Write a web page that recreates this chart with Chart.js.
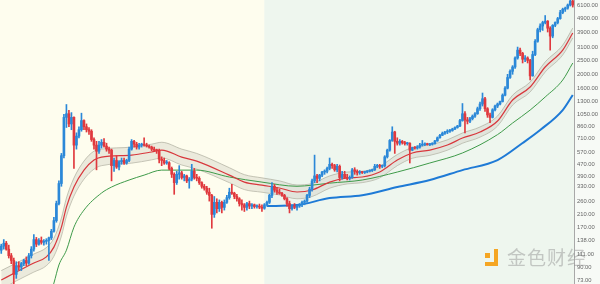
<!DOCTYPE html>
<html>
<head>
<meta charset="utf-8">
<script src="https://cdn.jsdelivr.net/npm/chart.js@4"></script>
<style>
    html, body { margin: 0; padding: 0; background: #ffffff; overflow: hidden; }
    #wrap { position: relative; width: 600px; height: 284px; }
    #wm-text { position: absolute; left: 507px; top: 243px; font: 19px "Noto Sans CJK SC", sans-serif; color: rgba(140, 140, 140, 0.45); letter-spacing: 1px; white-space: nowrap; }
    .wm-icon { position: absolute; background: #F5A623; }
</style>
</head>
<body>
<div id="wrap">
    <canvas id="chart" width="600" height="284"></canvas>
    <div class="wm-icon" style="left:485px;top:253px;width:5px;height:5px;"></div>
    <div class="wm-icon" style="left:494px;top:249px;width:4px;height:17px;"></div>
    <div class="wm-icon" style="left:485px;top:262px;width:13px;height:4px;"></div>
    <div id="wm-text">金色财经</div>
</div>
<script>
// weekly candles, one entry per week
const openP = [118, 126, 132, 120, 108, 100, 80, 92, 90, 95, 100, 96, 108, 120, 140, 130, 138, 134, 136, 138,
    144, 160, 190, 250, 345, 540, 1000, 1060, 900, 1000, 640, 740, 820, 950, 860, 820, 800, 700, 640, 580,
    640, 670, 630, 600, 590, 460, 500, 450, 490, 500, 480, 500, 600, 680, 650, 620, 640, 650, 640, 630,
    620, 600, 590, 585, 510, 500, 480, 482, 440, 400, 350, 400, 410, 380, 390, 360, 370, 420, 380, 375,
    350, 330, 320, 300, 285, 210, 255, 230, 255, 235, 255, 275, 300, 295, 280, 270, 250, 245, 235, 250,
    240, 245, 238, 240, 236, 232, 245, 255, 285, 330, 310, 300, 295, 285, 270, 250, 230, 240, 235, 240,
    245, 255, 260, 285, 315, 360, 390, 375, 395, 415, 420, 440, 470, 460, 430, 455, 380, 400, 380, 375,
    380, 430, 420, 410, 415, 412, 415, 420, 425, 430, 455, 460, 455, 460, 530, 590, 690, 790, 680, 660,
    680, 665, 655, 660, 590, 615, 610, 620, 640, 645, 650, 645, 650, 655, 685, 720, 750, 775, 790, 800,
    810, 830, 850, 870, 950, 1060, 960, 940, 980, 1020, 1060, 1150, 1240, 1350, 1150, 1040, 1000, 1130, 1200, 1240,
    1290, 1430, 1600, 1900, 2100, 2250, 2600, 2950, 2800, 2550, 2600, 2500, 1950, 2750, 3400, 4100, 4350, 4600, 4700, 4200,
    3700, 4400, 4600, 4900, 5400, 5700, 5800, 6100, 6500];
const highP = [130, 140, 136, 128, 112, 104, 98, 98, 97, 102, 106, 112, 125, 152, 145, 142, 146, 140, 142, 146,
    165, 200, 260, 360, 560, 1050, 1230, 1120, 1080, 1010, 780, 860, 1070, 960, 900, 850, 820, 720, 680, 680,
    700, 710, 660, 620, 600, 520, 540, 500, 520, 520, 510, 620, 700, 690, 670, 660, 660, 720, 660, 640,
    630, 620, 600, 600, 530, 520, 500, 490, 450, 410, 420, 460, 420, 400, 395, 380, 470, 440, 400, 385,
    355, 340, 330, 320, 290, 280, 270, 265, 260, 265, 285, 320, 340, 300, 290, 275, 265, 250, 255, 260,
    250, 248, 245, 248, 245, 250, 260, 290, 350, 340, 325, 315, 300, 290, 275, 260, 245, 250, 245, 250,
    260, 265, 290, 325, 370, 545, 400, 400, 420, 430, 450, 520, 480, 470, 470, 465, 420, 420, 400, 390,
    440, 445, 430, 425, 420, 420, 425, 430, 435, 470, 470, 470, 465, 540, 600, 700, 860, 800, 720, 700,
    690, 680, 670, 665, 620, 625, 635, 660, 690, 665, 660, 660, 665, 690, 730, 760, 790, 800, 820, 825,
    840, 860, 880, 970, 1250, 1100, 1000, 1000, 1040, 1080, 1180, 1280, 1480, 1380, 1170, 1070, 1150, 1220, 1260, 1300,
    1460, 1640, 2000, 2150, 2300, 2650, 3100, 3050, 2850, 2700, 2650, 2550, 2900, 3500, 4200, 4500, 4700, 5150, 4750, 4300,
    4450, 4650, 5000, 5600, 5800, 5900, 6200, 6700, 6900];
const lowP = [112, 120, 118, 104, 95, 68, 75, 86, 85, 92, 92, 94, 104, 116, 125, 128, 130, 128, 130, 100,
    140, 158, 185, 245, 330, 520, 850, 860, 820, 440, 600, 720, 800, 820, 790, 760, 680, 600, 430, 560,
    610, 620, 580, 560, 360, 420, 440, 430, 470, 470, 470, 490, 590, 620, 600, 600, 620, 630, 620, 610,
    585, 580, 560, 480, 460, 470, 470, 430, 380, 290, 340, 370, 370, 360, 350, 320, 360, 370, 360, 340,
    320, 310, 290, 260, 168, 200, 215, 220, 215, 225, 250, 268, 290, 270, 260, 240, 225, 220, 225, 230,
    230, 232, 232, 230, 220, 228, 240, 250, 275, 300, 290, 290, 280, 265, 240, 215, 225, 230, 225, 235,
    238, 245, 255, 275, 305, 350, 350, 360, 385, 400, 410, 430, 440, 420, 415, 360, 370, 375, 365, 365,
    375, 400, 395, 400, 405, 405, 410, 415, 418, 425, 445, 440, 445, 450, 520, 580, 680, 560, 640, 640,
    650, 640, 640, 480, 585, 600, 600, 610, 630, 635, 640, 635, 640, 650, 680, 715, 745, 760, 770, 785,
    800, 820, 840, 860, 940, 780, 900, 920, 960, 1000, 1050, 1120, 1200, 1100, 1000, 920, 990, 1110, 1170, 1220,
    1280, 1410, 1580, 1870, 2000, 2200, 2550, 2700, 2400, 2450, 2400, 1830, 1940, 2700, 3350, 3950, 4050, 4500, 3950, 2950,
    3600, 4300, 4500, 4850, 5300, 5500, 5700, 6000, 5900];
const closeP = [126, 132, 120, 108, 100, 80, 92, 90, 95, 100, 96, 108, 120, 140, 130, 138, 134, 136, 138, 144,
    160, 190, 250, 345, 540, 1000, 1060, 900, 1000, 640, 740, 820, 950, 860, 820, 800, 700, 640, 580, 640,
    670, 630, 600, 590, 460, 500, 450, 490, 500, 480, 500, 600, 680, 650, 620, 640, 650, 640, 630, 620,
    600, 590, 585, 510, 500, 480, 482, 440, 400, 350, 400, 410, 380, 390, 360, 370, 420, 380, 375, 350,
    330, 320, 300, 285, 210, 255, 230, 255, 235, 255, 275, 300, 295, 280, 270, 250, 245, 235, 250, 240,
    245, 238, 240, 236, 232, 245, 255, 285, 330, 310, 300, 295, 285, 270, 250, 230, 240, 235, 240, 245,
    255, 260, 285, 315, 360, 390, 375, 395, 415, 420, 440, 470, 460, 430, 455, 380, 400, 380, 375, 380,
    430, 420, 410, 415, 412, 415, 420, 425, 430, 455, 460, 455, 460, 530, 590, 690, 790, 680, 660, 680,
    665, 655, 660, 590, 615, 610, 620, 640, 645, 650, 645, 650, 655, 685, 720, 750, 775, 790, 800, 810,
    830, 850, 870, 950, 1060, 960, 940, 980, 1020, 1060, 1150, 1240, 1350, 1150, 1040, 1000, 1130, 1200, 1240, 1290,
    1430, 1600, 1900, 2100, 2250, 2600, 2950, 2800, 2550, 2600, 2500, 1950, 2750, 3400, 4100, 4350, 4600, 4700, 4200, 3700,
    4400, 4600, 4900, 5400, 5700, 5800, 6100, 6500, 6100];

// red average with its grey envelope (same weeks)
const emaWeeks = [0, 6, 13, 18, 21, 24, 26, 29, 33, 37, 40, 52, 60, 64, 72, 78, 91, 97, 104, 111,
    118, 124, 131, 138, 144, 151, 158, 164, 171, 178, 184, 191, 198, 204, 211, 217, 224, 228];
const emaValues = [73, 83, 96, 106, 124, 171, 236, 326, 428, 503, 528, 545, 573, 591, 528, 495, 395, 353, 336, 321,
    301, 311, 353, 377, 383, 415, 503, 564, 591, 641, 717, 790, 943, 1322, 1630, 2250, 2956, 3888];
const bandUpper = [85, 96, 111, 123, 143, 198, 273, 377, 495, 581, 600, 620, 650, 670, 600, 560, 445, 398, 378, 360,
    337, 345, 390, 415, 420, 455, 550, 615, 643, 697, 778, 857, 1022, 1430, 1765, 2440, 3200, 4210];
const bandLower = [63, 72, 83, 92, 107, 148, 204, 282, 370, 435, 460, 479, 505, 520, 465, 435, 350, 313, 300, 287,
    270, 280, 320, 343, 350, 378, 460, 518, 543, 590, 660, 728, 870, 1220, 1505, 2075, 2730, 3590];

// green average
const smaWeeks = [19, 21, 23, 26, 29, 33, 40, 44, 51, 57, 64, 71, 78, 91, 104, 118, 124, 131, 144, 158,
    171, 184, 198, 204, 211, 217, 224, 228];
const smaValues = [55, 69.5, 93, 118, 171, 225, 296, 326, 365, 395, 428, 428, 428, 383, 353, 330, 336, 347, 365, 415,
    480, 564, 758, 913, 1125, 1388, 1824, 2398];

// blue 200-week average
const wmaWeeks = [106, 118, 131, 144, 158, 171, 184, 198, 208, 215, 224, 228];
const wmaValues = [240, 244, 273, 286, 326, 365, 428, 503, 662, 816, 1125, 1433];

const tickValues = [6100, 4900, 3900, 3100, 2500, 2000, 1600, 1300, 1050, 860, 710, 570, 470, 390, 330, 260, 210, 170, 138, 111, 90, 73];
const shadeSplitWeek = 105;

const UP = "#2B88D8";
const DOWN = "#E0393E";

const candleColors = openP.map((o, i) => closeP[i] >= o ? UP : DOWN);
const wickData = openP.map((o, i) => ({ x: i, y: [lowP[i], highP[i]] }));
const bodyData = openP.map((o, i) => ({ x: i, y: [o, closeP[i]] }));
const toPoints = (weeks, vals) => weeks.map((w, i) => ({ x: w, y: vals[i] }));

const bgPlugin = {
    id: "bg",
    beforeDraw(chart) {
        const { ctx, chartArea: a } = chart;
        const split = chart.scales.x.getPixelForValue(shadeSplitWeek);
        ctx.save();
        ctx.fillStyle = "#F7FAF6";
        ctx.fillRect(0, 0, chart.width, chart.height);
        ctx.fillStyle = "#FEFDEE";
        ctx.fillRect(a.left, a.top, split - a.left, a.bottom - a.top);
        ctx.fillStyle = "#EEF6EE";
        ctx.fillRect(split, a.top, a.right - split, a.bottom - a.top);
        ctx.restore();
    }
};

const lineBase = { type: "line", pointRadius: 0, cubicInterpolationMode: "monotone" };

new Chart(document.getElementById("chart"), {
    type: "bar",
    data: {
        datasets: [
            { data: bodyData, backgroundColor: candleColors, barThickness: 2, grouped: false, minBarLength: 1 },
            { data: wickData, backgroundColor: candleColors, barThickness: 1, grouped: false },
            { ...lineBase, data: toPoints(emaWeeks, emaValues), borderColor: "#D8373C", borderWidth: 1.2 },
            { ...lineBase, data: toPoints(smaWeeks, smaValues), borderColor: "#3F9B4A", borderWidth: 1 },
            { ...lineBase, data: toPoints(wmaWeeks, wmaValues), borderColor: "#1E7AD6", borderWidth: 2 },
            { ...lineBase, data: toPoints(emaWeeks, bandUpper), borderColor: "rgba(165,165,150,0.8)", borderWidth: 0.8,
                fill: "+1", backgroundColor: "rgba(200,198,185,0.35)" },
            { ...lineBase, data: toPoints(emaWeeks, bandLower), borderColor: "rgba(165,165,150,0.8)", borderWidth: 0.8 }
        ]
    },
    options: {
        responsive: false,
        animation: false,
        devicePixelRatio: 1,
        layout: { padding: 0 },
        scales: {
            x: {
                type: "linear",
                min: -0.5,
                max: 228.5,
                offset: false,
                display: false
            },
            y: {
                type: "logarithmic",
                position: "right",
                min: 68.5,
                max: 6611,
                grid: { display: false, drawTicks: false },
                border: { display: true, color: "#A8A8A8" },
                afterBuildTicks: (scale) => {
                    scale.ticks = tickValues.map((v) => ({ value: v }));
                },
                afterFit: (scale) => {
                    scale.width = 26;
                    scale.paddingTop = 0;
                    scale.paddingBottom = 0;
                },
                ticks: {
                    autoSkip: false,
                    padding: 3,
                    color: "#666666",
                    font: { family: "Liberation Sans", size: 5.8 },
                    callback: (value) => Number(value).toFixed(2)
                }
            }
        },
        plugins: {
            legend: { display: false },
            tooltip: { enabled: false }
        }
    },
    plugins: [bgPlugin]
});
</script>
</body>
</html>
